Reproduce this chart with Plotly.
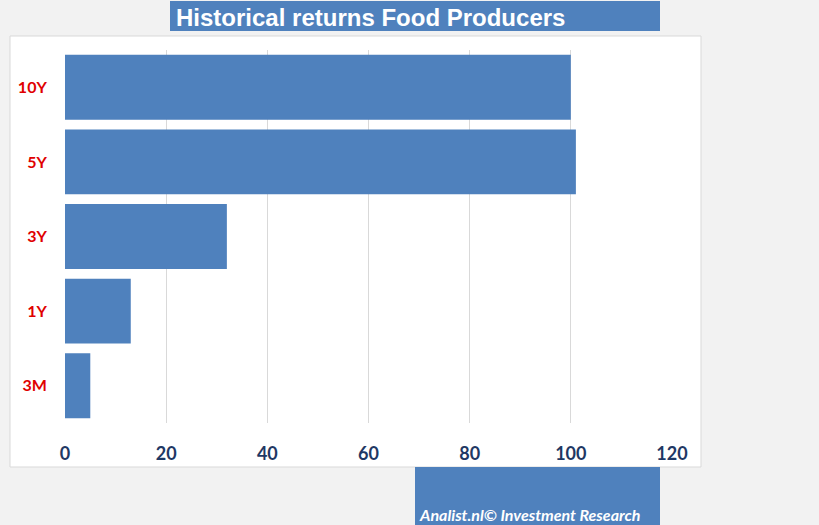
import plotly.graph_objects as go

categories = ["10Y", "5Y", "3Y", "1Y", "3M"]
values = [100.0, 101.0, 32.0, 13.0, 5.0]
x_ticks = [0, 20, 40, 60, 80, 100, 120]

W, H = 819, 525
BLUE = "#4f81bd"

def px(x):
    return x / W

def py(y):
    return 1 - y / H

fig = go.Figure()
fig.add_trace(go.Bar(
    x=values, y=categories, orientation="h",
    marker=dict(color=BLUE, line=dict(width=0)),
    width=0.87, hoverinfo="x+y",
))

shapes = [
    dict(type="rect", xref="paper", yref="paper", x0=px(10), x1=px(701), y0=py(467), y1=py(36),
         fillcolor="white", line=dict(color="#d9d9d9", width=1), layer="below"),
    dict(type="rect", xref="paper", yref="paper", x0=px(170), x1=px(660), y0=py(31), y1=py(1),
         fillcolor=BLUE, line=dict(width=0), layer="above"),
    dict(type="rect", xref="paper", yref="paper", x0=px(415), x1=px(660), y0=py(525), y1=py(467),
         fillcolor=BLUE, line=dict(width=0), layer="above"),
]

annotations = [
    dict(text="<b>Historical returns Food Producers</b>", xref="paper", yref="paper",
         x=px(174), y=py(17), xanchor="left", yanchor="middle", showarrow=False,
         font=dict(family="Liberation Sans, Arial", size=24, color="white")),
    dict(text="<b><i>Analist.nl© Investment Research</i></b>", xref="paper", yref="paper",
         x=px(417), y=py(514), xanchor="left", yanchor="middle", showarrow=False,
         font=dict(family="Lato, Open Sans", size=16, color="white")),
]

fig.update_layout(
    width=W, height=H,
    margin=dict(l=0, r=0, t=0, b=0, autoexpand=False),
    paper_bgcolor="#f2f2f2",
    plot_bgcolor="rgba(0,0,0,0)",
    showlegend=False,
    shapes=shapes,
    annotations=annotations,
    xaxis=dict(
        domain=[px(65), px(672)], range=[0, 120], tickvals=x_ticks,
        showgrid=True, gridcolor="#d9d9d9", gridwidth=1, zeroline=False,
        showline=False, ticks="outside", ticklen=14, tickcolor="rgba(0,0,0,0)",
        tickfont=dict(family="Lato", size=18, color="#1f3864", weight="bold"),
        fixedrange=True, automargin=False,
    ),
    yaxis=dict(
        type="category",
        domain=[py(423), py(50)], autorange=False, range=[4.5, -0.5],
        categoryorder="array", categoryarray=categories,
        showgrid=False, zeroline=False, showline=False,
        ticks="outside", ticklen=14, tickcolor="rgba(0,0,0,0)",
        tickfont=dict(family="Lato", size=16, color="#e00000", weight="bold"),
        fixedrange=True, automargin=False,
    ),
)

fig.write_html("out.html")
